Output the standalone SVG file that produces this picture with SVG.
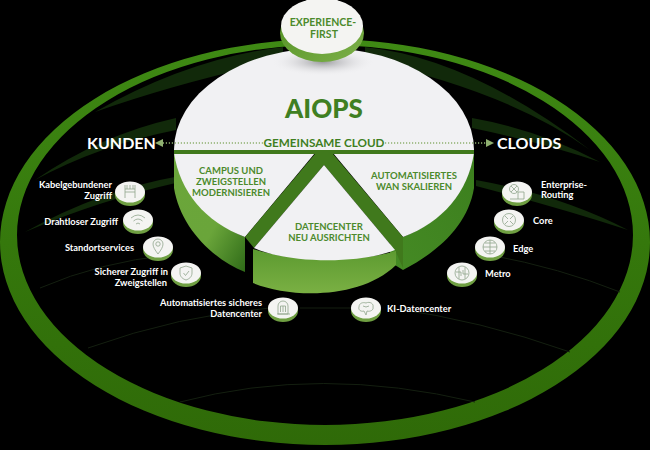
<svg xmlns="http://www.w3.org/2000/svg" width="650" height="450" viewBox="0 0 650 450">
<style>
text{font-family:Lato,"Open Sans","Liberation Sans",sans-serif;font-weight:700}
.lab{fill:#fff;font-size:9.3px}
.end{text-anchor:end}
.seg{fill:#4c8a2c;font-size:9.5px;text-anchor:middle}
.big{fill:#fff;font-size:16px}
.face{fill:#f1f1f3}
.ic{fill:none;stroke:#8fa48c;stroke-width:.8}
.faint{fill:none;stroke:#141f10;stroke-width:1}
.streak{fill:#11290a}
.dot{fill:none;stroke:#8fb070;stroke-width:1.4;stroke-dasharray:1.2 1.8}
</style>
<defs>
<linearGradient id="ring" x1="0" y1="0" x2="0" y2="1"><stop offset="0" stop-color="#3f8a14"/><stop offset=".5" stop-color="#35780c"/><stop offset="1" stop-color="#2f6a08"/></linearGradient>
<linearGradient id="sideL" x1="0" y1="0" x2="1" y2="1"><stop offset="0" stop-color="#6ba63a"/><stop offset=".6" stop-color="#6aa53a"/><stop offset="1" stop-color="#2f6b18"/></linearGradient>
<linearGradient id="sideR" x1="1" y1="0" x2="0" y2="1"><stop offset="0" stop-color="#3c7f1e"/><stop offset="1" stop-color="#458a24"/></linearGradient>
<linearGradient id="sideM" x1="0" y1="0" x2="0" y2="1"><stop offset="0" stop-color="#5c9a30"/><stop offset="1" stop-color="#7ab043"/></linearGradient>
<linearGradient id="top" x1="0" y1="0" x2="1" y2="1"><stop offset="0" stop-color="#4f8f20"/><stop offset="1" stop-color="#7db04a"/></linearGradient>
<radialGradient id="shade"><stop offset="0" stop-color="#9a9a9e"/><stop offset="1" stop-color="#f1f1f3" stop-opacity="0"/></radialGradient>
<marker id="arr" markerWidth="8" markerHeight="8" refX="6" refY="4" orient="auto-start-reverse" markerUnits="userSpaceOnUse"><path d="M0 0L8 4L0 8Z" fill="#8fb070"/></marker>
<g id="puck"><ellipse cx="0" cy="3" rx="15" ry="11" fill="#6f9f42"/><ellipse cx="0" cy="0" rx="15" ry="10.5" fill="#f4f4f2"/></g>
</defs>
<rect width="650" height="450" fill="#000"/>

<g id="ring-back">
<path fill-rule="evenodd" fill="url(#ring)" d="M0 242A325 203 0 1 0 650 242A325 203 0 1 0 0 242ZM17 235A308 190 0 1 1 633 235A308 190 0 1 1 17 235Z"/>
<path class="streak" d="M283 47Q190 58 95 112Q180 82 283 60Z"/>
<path class="streak" d="M365 47Q470 58 590 150Q510 92 365 60Z"/>
<path class="streak" d="M176 118Q100 135 35 180Q100 145 176 130Z"/>
<path class="streak" d="M472 118Q540 130 600 162Q540 142 472 128Z"/>
<path class="streak" d="M180 176Q100 190 25 232Q100 200 180 182Z"/>
<path class="streak" d="M476 180Q560 195 628 230Q560 208 476 186Z"/>
</g>

<g id="connectors">
<path class="faint" d="M88 348Q180 315 270 308"/>
<path class="faint" d="M300 308H352"/>
<path class="faint" d="M390 308Q480 320 570 352"/>
<path class="faint" d="M180 402Q320 365 475 402"/>
<path class="faint" d="M40 288Q100 262 170 255"/>
<path class="faint" d="M490 255Q560 268 620 292"/>
</g>

<g id="aiops">
<path fill="url(#sideL)" d="M174 150V188C180 225 210 258 245 272V237C205 220 180 190 174 150Z"/>
<path fill="url(#sideR)" d="M474 150V188C468 225 438 252 403 270L390 262V237H403C445 220 468 190 474 150Z"/>
<path class="face" d="M174 150A150 102 0 0 1 474 150Z"/>
<path class="face" d="M174 153H315L245 237C205 222 180 192 174 153Z"/>
<path class="face" d="M474 153H333L403 237C443 222 468 192 474 153Z"/>
<path fill="#40791c" d="M174 150H474V154H333L403 237L403 268L395 250L324 165L254 248L245 237L315 154H174Z"/>
<ellipse cx="323" cy="62" rx="52" ry="14" fill="url(#shade)"/>
<text x="324" y="118" text-anchor="middle" style="font-size:26px;font-weight:900" fill="#3f7f22">AIOPS</text>
<text x="324" y="147" text-anchor="middle" style="font-size:11.7px" fill="#3f7f22">GEMEINSAME CLOUD</text>
</g>

<g id="arrows">
<path class="dot" marker-end="url(#arr)" d="M263 143H157"/>
<path class="dot" marker-end="url(#arr)" d="M385 143H492"/>
</g>

<g id="campus">
<text class="seg" x="231" y="174">CAMPUS UND</text>
<text class="seg" x="231" y="185">ZWEIGSTELLEN</text>
<text class="seg" x="231" y="196">MODERNISIEREN</text>
</g>
<g id="wan">
<text class="seg" x="414" y="179">AUTOMATISIERTES</text>
<text class="seg" x="414" y="190">WAN SKALIEREN</text>
</g>
<g id="datacenter">
<path fill="url(#sideM)" d="M253 249C290 262 360 262 396 251V265C360 300 290 298 253 283Z"/>
<path class="face" d="M324 165L395 250C360 264 290 264 254 248Z"/>
<text class="seg" x="329" y="230">DATENCENTER</text>
<text class="seg" x="329" y="241">NEU AUSRICHTEN</text>
</g>

<g id="experience-first">
<ellipse cx="322" cy="33" rx="42" ry="29" fill="url(#top)"/>
<ellipse cx="322" cy="26" rx="41" ry="28" fill="#f4f4f2"/>
<text x="323" y="26" text-anchor="middle" style="font-size:10.5px" fill="#4c8a2c">EXPERIENCE-</text>
<text x="324" y="38" text-anchor="middle" style="font-size:10.5px" fill="#4c8a2c">FIRST</text>
</g>

<text id="kunden" class="big" x="87" y="149">KUNDEN</text>
<text id="clouds" class="big" x="497" y="149">CLOUDS</text>

<g id="kabel"><text class="lab end" x="112" y="188">Kabelgebundener</text><text class="lab end" x="112" y="199">Zugriff</text>
<g transform="translate(130 192)"><use href="#puck"/><path class="ic" d="M-5-7V6M5-7V6M-5 0H5M-5-3H5M-3-7V-3M0-7V-3M3-7V-3"/></g></g>
<g id="drahtlos"><text class="lab end" x="118" y="225">Drahtloser Zugriff</text>
<g transform="translate(138 220)"><use href="#puck"/><path class="ic" d="M-7-2Q0-8 7-2M-4.500 1Q0-3 4.500 1M-2 4Q0 2 2 4"/></g></g>
<g id="standort"><text class="lab end" x="134" y="251">Standortservices</text>
<g transform="translate(158 247)"><use href="#puck"/><path class="ic" d="M0 7C-3 3-5 0-5-3A5 5 0 0 1 5-3C5 0 3 3 0 7Z"/><circle class="ic" cx="0" cy="-3" r="2.200"/></g></g>
<g id="sicher"><text class="lab end" x="168" y="275">Sicherer Zugriff in</text><text class="lab end" x="167" y="286">Zweigstellen</text>
<g transform="translate(186 273)"><use href="#puck"/><path class="ic" d="M0-7L6-5V0C6 4 3 6 0 7C-3 6-6 4-6 0V-5Z"/><path class="ic" d="M-2.500 0L-.5 2.500L3-2"/></g></g>
<g id="auto-dc"><text class="lab end" x="262" y="306">Automatisiertes sicheres</text><text class="lab end" x="262" y="317">Datencenter</text>
<g transform="translate(283 308)"><use href="#puck"/><path class="ic" d="M-5 6V-2A5 5 0 0 1 5-2V6ZM-2.500 4V-2H2.500V4M0-2V4M-6 6H7"/></g></g>
<g id="ki-dc"><text class="lab" x="387" y="312">KI-Datencenter</text>
<g transform="translate(366 308)"><use href="#puck"/><path class="ic" d="M-7-1C-7-5-3-6 0-5C4-7 8-4 7-1C8 2 4 4 1 3L0 7L-2 3C-5 4-8 2-7-1ZM-3-2Q0 0 3-2"/></g></g>
<g id="metro"><text class="lab" x="485" y="277">Metro</text>
<g transform="translate(462 273)"><use href="#puck"/><circle class="ic" r="7"/><path class="ic" d="M-3-6V6M3-6V6M-6-1H-1V3M6 1H1V-3"/></g></g>
<g id="edge"><text class="lab" x="513" y="252">Edge</text>
<g transform="translate(490 247)"><use href="#puck"/><circle class="ic" r="7"/><path class="ic" d="M-7 0H7M0-7V7M-5-4H5M-5 4H5"/></g></g>
<g id="core"><text class="lab" x="533" y="224">Core</text>
<g transform="translate(509 220)"><use href="#puck"/><circle class="ic" r="6.500"/><path class="ic" d="M-4-4L-1-1M4-4L1-1M-4 4L-1 1M4 4L1 1"/></g></g>
<g id="enterprise"><text class="lab" x="541" y="188">Enterprise-</text><text class="lab" x="541" y="198">Routing</text>
<g transform="translate(517 192)"><use href="#puck"/><circle class="ic" cx="-3" cy="-3" r="4.500"/><path class="ic" d="M-6-6L0 0M0-6L-6 0M1 7V0H7V7ZM-7 7H1"/></g></g>
</svg>
